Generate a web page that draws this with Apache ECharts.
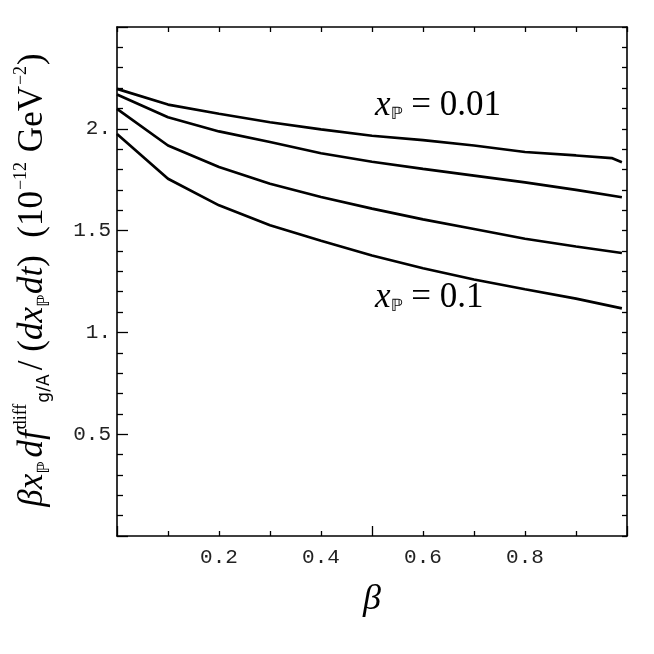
<!DOCTYPE html>
<html>
<head>
<meta charset="utf-8">
<script src="https://cdn.jsdelivr.net/npm/echarts@6/dist/echarts.min.js"></script>
<style>html,body{margin:0;padding:0;background:#fff;}#c{width:654px;height:654px;}</style>
</head>
<body>
<div id="c"></div>
<script>
// Data
const betaA = [0, 0.1, 0.2, 0.3, 0.4, 0.5, 0.6, 0.7, 0.8, 0.9, 0.97, 0.99];
const curve001 = [2.196, 2.119, 2.074, 2.032, 1.997, 1.966, 1.944, 1.918, 1.886, 1.869, 1.856, 1.836];
const betaB = [0, 0.1, 0.2, 0.3, 0.4, 0.5, 0.6, 0.7, 0.8, 0.9, 0.99];
const curveB = [2.168, 2.057, 1.987, 1.935, 1.880, 1.838, 1.803, 1.770, 1.737, 1.700, 1.664];
const curveC = [2.098, 1.918, 1.812, 1.730, 1.665, 1.608, 1.555, 1.508, 1.460, 1.422, 1.390];
const curve01 = [1.975, 1.755, 1.624, 1.526, 1.450, 1.378, 1.315, 1.260, 1.212, 1.166, 1.118];
const xLabelValues = [0.2, 0.4, 0.6, 0.8];
const xTickLabels = {2: '0.2', 4: '0.4', 6: '0.6', 8: '0.8'};
const yTickLabels = {5: '0.5', 10: '1.', 15: '1.5', 20: '2.'};

const pairs = (xs, ys) => xs.map((x, i) => [x, ys[i]]);
const chart = echarts.init(document.getElementById('c'), null, {renderer: 'canvas'});
const black = '#000';
const monoFont = 'Liberation Mono';
const serif = 'Liberation Serif';

const lineSeries = (name, xs, ys) => ({
  name, type: 'line', data: pairs(xs, ys), xAxisIndex: 0, yAxisIndex: 0,
  symbol: 'none', smooth: false, silent: true,
  lineStyle: {color: black, width: 2.7}
});

const tickStyle = {color: black, width: 1.3};
const lineSty = {show: true, onZero: false, lineStyle: {color: black, width: 1.6}};

chart.setOption({
  animation: false,
  backgroundColor: '#fff',
  grid: {left: 117, top: 27, right: 27, bottom: 118},
  xAxis: [
    {
      type: 'value', min: 0, max: 1, position: 'bottom', interval: 0.5,
      splitLine: {show: false},
      axisLine: lineSty,
      axisTick: {show: true, inside: true, length: 10, lineStyle: tickStyle},
      minorTick: {show: true, splitNumber: 5, length: 5, lineStyle: tickStyle},
      axisLabel: {
        show: true, margin: 11, color: '#222', fontFamily: monoFont, fontSize: 21,
        customValues: xLabelValues,
        formatter: v => xTickLabels[Math.round(v * 10)] || ''
      }
    },
    {
      type: 'value', min: 0, max: 1, position: 'top', interval: 0.1,
      splitLine: {show: false},
      axisLine: lineSty,
      axisTick: {show: true, inside: true, length: 5, lineStyle: tickStyle},
      axisLabel: {show: false}
    }
  ],
  yAxis: [
    {
      type: 'value', min: 0, max: 2.5, position: 'left', interval: 0.5,
      splitLine: {show: false},
      axisLine: lineSty,
      axisTick: {show: true, inside: true, length: 11, lineStyle: tickStyle},
      minorTick: {show: true, splitNumber: 5, length: 6, lineStyle: tickStyle},
      axisLabel: {
        show: true, margin: 6, color: '#222', fontFamily: monoFont, fontSize: 21,
        formatter: v => yTickLabels[Math.round(v * 10)] || ''
      }
    },
    {
      type: 'value', min: 0, max: 2.5, position: 'right', interval: 0.1,
      splitLine: {show: false},
      axisLine: lineSty,
      axisTick: {show: true, inside: true, length: 5, lineStyle: tickStyle},
      axisLabel: {show: false}
    }
  ],
  series: [
    lineSeries('xP=0.01', betaA, curve001),
    lineSeries('b', betaB, curveB),
    lineSeries('c', betaB, curveC),
    lineSeries('xP=0.1', betaB, curve01)
  ],
  graphic: [
    {
      type: 'text', left: 375, top: 88, silent: true,
      style: {
        text: '{i|x}{s|ℙ}{n| = 0.01}',
        rich: {
          i: {fontFamily: serif, fontStyle: 'italic', fontSize: 35, lineHeight: 40, fill: black, verticalAlign: 'bottom'},
          s: {fontFamily: 'DejaVu Sans', fontSize: 17, fill: black, verticalAlign: 'bottom'},
          n: {fontFamily: serif, fontSize: 35, lineHeight: 40, fill: black, verticalAlign: 'bottom'}
        }
      }
    },
    {
      type: 'text', left: 375, top: 280, silent: true,
      style: {
        text: '{i|x}{s|ℙ}{n| = 0.1}',
        rich: {
          i: {fontFamily: serif, fontStyle: 'italic', fontSize: 35, lineHeight: 40, fill: black, verticalAlign: 'bottom'},
          s: {fontFamily: 'DejaVu Sans', fontSize: 17, fill: black, verticalAlign: 'bottom'},
          n: {fontFamily: serif, fontSize: 35, lineHeight: 40, fill: black, verticalAlign: 'bottom'}
        }
      }
    },
    {
      type: 'text', x: 372, y: 600, silent: true,
      style: {
        text: 'β', fontFamily: serif, fontStyle: 'italic', fontSize: 36, fill: black,
        align: 'center', verticalAlign: 'middle'
      }
    },
    {
      type: 'text', x: 33, y: 280, rotation: Math.PI / 2, silent: true,
      style: {
        text: '{i|βx}{sb|ℙ} {i|df}{sp|diff}{sb|g/A} {n|/ (}{i|dx}{sb|ℙ}{i|dt}{n|)  (10}{sp|−12}{n| GeV}{sp|−2}{n|)}',
        align: 'center', verticalAlign: 'middle',
        rich: {
          i: {fontFamily: serif, fontStyle: 'italic', fontSize: 35, lineHeight: 46, fill: black},
          n: {fontFamily: serif, fontSize: 35, lineHeight: 46, fill: black},
          sp: {fontFamily: serif, fontSize: 18, fill: black, verticalAlign: 'top', padding: [2, 1, 0, 1]},
          sb: {fontFamily: 'DejaVu Sans', fontSize: 17, fill: black, verticalAlign: 'bottom', padding: [0, 1, 3, 0]}
        }
      }
    }
  ]
});
</script>
</body>
</html>
